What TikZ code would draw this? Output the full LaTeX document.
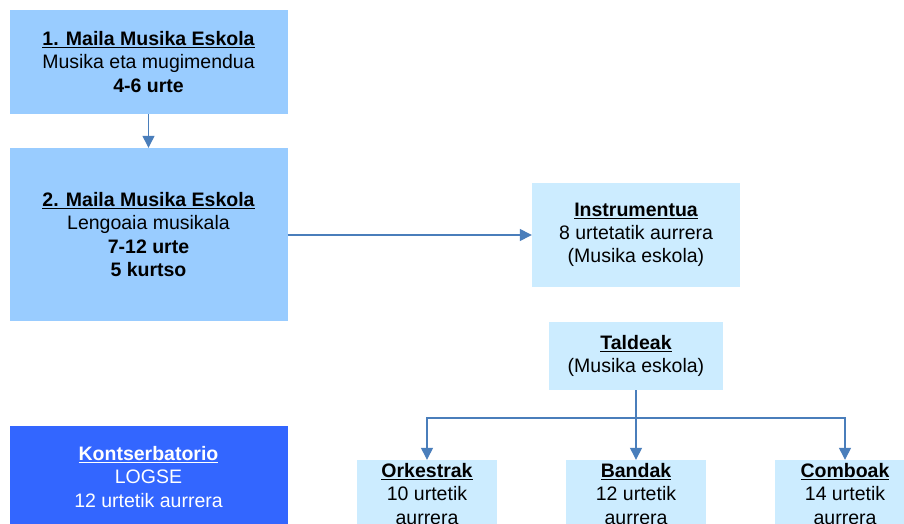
\documentclass[tikz,border=0pt]{standalone}
\usepackage{fontspec}
\setmainfont{Liberation Sans}
\usepackage{tikz}
\usetikzlibrary{arrows.meta}

\definecolor{mailablue}{HTML}{99CCFF}
\definecolor{taldeblue}{HTML}{CCECFF}
\definecolor{kontblue}{HTML}{3366FF}
\definecolor{lotura}{HTML}{4A7EBB}

\tikzset{
	box/.style={inner sep=0pt, align=center, font=\fontsize{19.5}{23.2}\selectfont},
	mailabox/.style={box, fill=mailablue, minimum width=278pt},
	taldebox/.style={box, fill=taldeblue},
	kontbox/.style={box, fill=kontblue, text=white, minimum width=278pt, minimum height=102pt},
	arr/.style={draw=lotura, line width=1.3pt, -{Triangle[length=12pt,width=12pt]}}
}

\begin{document}
\begin{tikzpicture}[x=1pt, y=-1pt]
		\clip (0, 0) rectangle (904, 524);
		\fill[white] (0, 0) rectangle (904, 524);
		% Eskolak:
		\node[mailabox, minimum height=104pt] (maila1) at (148.5, 62) {\textbf{\underline{1. Maila Musika Eskola}}\\Musika eta mugimendua\\\textbf{4-6 urte}};
		\node[mailabox, minimum height=173pt] (maila2) at (148.5, 234.5) {\textbf{\underline{2. Maila Musika Eskola}}\\Lengoaia musikala\\\textbf{7-12 urte}\\\textbf{5 kurtso}};
		\node[kontbox] (kontserbatorio) at (148.5, 477) {\textbf{\underline{Kontserbatorio}}\\LOGSE\\12 urtetik aurrera};
		% Instrumentua eta taldeak:
		\node[taldebox, minimum width=208pt, minimum height=104pt] (instrumentua) at (636, 235) {\textbf{\underline{Instrumentua}}\\8 urtetatik aurrera\\(Musika eskola)};
		\node[taldebox, minimum width=174pt, minimum height=68pt] (taldeak) at (636, 356) {\textbf{\underline{Taldeak}}\\(Musika eskola)};
		\node[taldebox, minimum width=140pt, minimum height=68pt] (orkestrak) at (427, 494) {\textbf{\underline{Orkestrak}}\\10 urtetik\\aurrera};
		\node[taldebox, minimum width=140pt, minimum height=68pt] (bandak) at (636, 494) {\textbf{\underline{Bandak}}\\12 urtetik\\aurrera};
		\node[taldebox, minimum width=140pt, minimum height=68pt] (comboak) at (845, 494) {\textbf{\underline{Comboak}}\\14 urtetik\\aurrera};
		\coordinate (banatu) at (636, 418);
		% Loturak:
		\draw[arr] (maila1) -- (maila2);
		\draw[arr] (maila2.east |- instrumentua) -- (instrumentua);
		\draw[lotura, line width=1.3pt] (taldeak) -- (banatu);
		\draw[arr] (banatu) -| (orkestrak);
		\draw[arr] (banatu) -- (bandak);
		\draw[arr] (banatu) -| (comboak);
	\end{tikzpicture}
\end{document}
